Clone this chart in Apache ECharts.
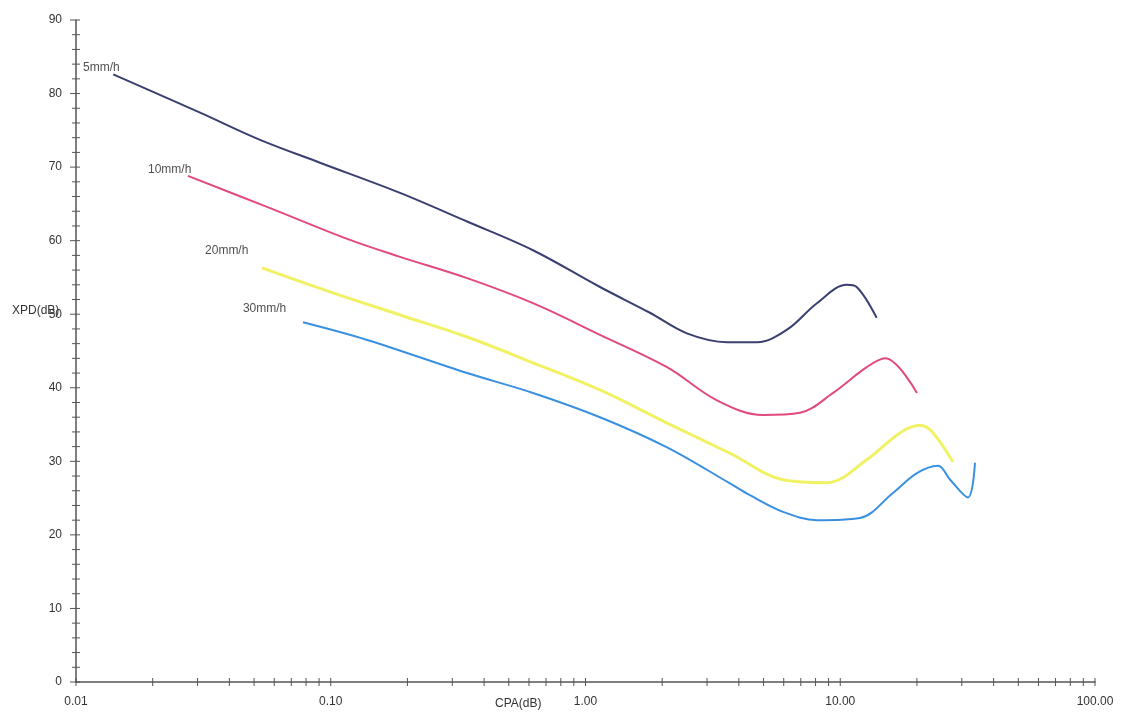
<!DOCTYPE html>
<html>
<head>
<meta charset="utf-8">
<script src="https://cdn.jsdelivr.net/npm/echarts@6/dist/echarts.min.js"></script>
<style>
html,body{margin:0;padding:0;background:#fff;}
#chart{width:1124px;height:716px;}
</style>
</head>
<body>
<div id="chart"></div>
<script>
// ---- data ----
const rainRates = ['5mm/h', '10mm/h', '20mm/h', '30mm/h'];

const cpa5 = [0.0140, 0.0307, 0.0528, 0.0907, 0.187, 0.343, 0.622, 1.14, 1.79, 2.50, 3.59, 4.71, 6.18, 8.10, 10.6, 11.6, 13.9];
const xpd5 = [82.6, 77.4, 73.7, 70.6, 66.5, 62.6, 58.7, 53.7, 50.2, 47.4, 46.2, 46.2, 47.9, 51.5, 54.0, 53.7, 49.5];

const cpa10 = [0.0275, 0.0562, 0.119, 0.187, 0.343, 0.622, 1.14, 2.09, 3.28, 4.97, 6.95, 9.37, 12.7, 15.0, 20.0];
const xpd10 = [68.8, 64.6, 60.1, 57.8, 54.9, 51.5, 47.2, 42.8, 38.3, 36.3, 36.6, 39.3, 42.8, 44.0, 39.3];

const cpa20 = [0.0537, 0.102, 0.187, 0.343, 0.622, 1.14, 2.09, 3.69, 5.96, 8.87, 12.7, 17.2, 20.6, 23.1, 27.7];
const xpd20 = [56.3, 52.9, 49.9, 46.9, 43.4, 39.7, 35.2, 31.1, 27.5, 27.1, 30.2, 33.9, 34.9, 33.9, 29.9];

const cpa30 = [0.0778, 0.139, 0.343, 0.622, 1.14, 2.09, 3.69, 4.42, 6.0, 8.10, 11.95, 16.1, 20.0, 24.2, 27.0, 31.7, 33.8];
const xpd30 = [48.9, 46.5, 42.0, 39.3, 36.0, 31.9, 27.0, 25.4, 23.1, 22.0, 22.3, 25.7, 28.4, 29.4, 27.5, 25.1, 29.8];

// curve label anchors (data coordinates)
const labelCpa = [0.01065, 0.01917, 0.0321, 0.0452];
const labelXpd = [83.5, 69.6, 58.7, 50.7];

// axis tick values
const xMajorTicks = [0.01, 0.1, 1, 10, 100];
const xTickValues = [];
for (let d = 0; d < 4; d++) {
  for (let k = 1; k <= 9; k++) xTickValues.push(+(k * xMajorTicks[d]).toPrecision(3));
}
xTickValues.push(100);
const yTickValues = [];
for (let v = 0; v <= 90; v += 2) yTickValues.push(v);

const colors = ['#3b3f70', '#e04a7c', '#f1f165', '#3a90e0'];
const widths = [2, 2, 3, 2];

function zip(a, b) { return a.map((v, i) => [v, b[i]]); }
const seriesData = [zip(cpa5, xpd5), zip(cpa10, xpd10), zip(cpa20, xpd20), zip(cpa30, xpd30)];

const axisColor = '#555';
const font = '"Liberation Sans", Arial, sans-serif';

const series = seriesData.map((d, i) => ({
  name: rainRates[i],
  type: 'line',
  data: d,
  smooth: 0.35,
  showSymbol: false,
  lineStyle: { color: colors[i], width: widths[i] },
  z: 3
}));

series.push({
  type: 'scatter',
  data: labelCpa.map((x, i) => [x, labelXpd[i], rainRates[i]]),
  symbolSize: 0,
  label: {
    show: true, position: 'right', distance: 0,
    formatter: p => p.value[2],
    color: '#222', fontSize: 12, fontFamily: font
  },
  z: 4
});

// crossing tick marks on the x axis
series.push({
  type: 'custom',
  data: xTickValues.map(v => [v, 0]),
  clip: false,
  silent: true,
  renderItem: (params, api) => {
    const p = api.coord([api.value(0), 0]);
    return { type: 'line', shape: { x1: p[0], y1: p[1] - 4, x2: p[0], y2: p[1] + 4 }, style: { stroke: axisColor, lineWidth: 1 } };
  },
  z: 5
});
// crossing tick marks on the y axis
series.push({
  type: 'custom',
  data: yTickValues.map(v => [0.01, v]),
  clip: false,
  silent: true,
  renderItem: (params, api) => {
    const p = api.coord([0.01, api.value(1)]);
    const major = api.value(1) % 10 === 0;
    return { type: 'line', shape: { x1: p[0] - (major ? 6 : 4), y1: p[1], x2: p[0] + 4, y2: p[1] }, style: { stroke: axisColor, lineWidth: 1 } };
  },
  z: 5
});

const chart = echarts.init(document.getElementById('chart'), null, { renderer: 'canvas' });
chart.setOption({
  animation: false,
  backgroundColor: '#fff',
  grid: { left: 76, right: 29, top: 20, bottom: 34, containLabel: false },
  xAxis: {
    type: 'log', logBase: 10, min: 0.01, max: 100,
    axisLine: { show: true, onZero: false, lineStyle: { color: axisColor, width: 1.5 } },
    axisTick: { show: false },
    minorTick: { show: false },
    splitLine: { show: false },
    axisLabel: { margin: 14, color: '#333', fontSize: 12, fontFamily: font, formatter: v => Number(v).toFixed(2), showMinLabel: true, showMaxLabel: true }
  },
  yAxis: {
    type: 'value', min: 0, max: 90, interval: 10,
    axisLine: { show: true, onZero: false, lineStyle: { color: axisColor, width: 1.5 } },
    axisTick: { show: false },
    splitLine: { show: false },
    axisLabel: { margin: 14, color: '#333', fontSize: 12, fontFamily: font }
  },
  graphic: [
    { type: 'text', left: 12, top: 305, style: { text: 'XPD(dB)', fill: '#333', font: '12px ' + font } },
    { type: 'text', left: 495, top: 698, style: { text: 'CPA(dB)', fill: '#333', font: '12px ' + font } }
  ],
  series: series
});
</script>
</body>
</html>
